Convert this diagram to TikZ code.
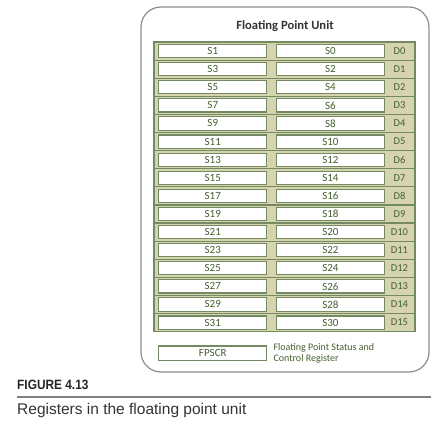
\documentclass[tikz,border=0pt]{standalone}
\usepackage{fontspec}
\setmainfont{Carlito}
\newfontfamily\capfont{Liberation Sans}
\newfontfamily\capfontcn[FakeStretch=0.88]{Liberation Sans}
\usepackage{xcolor}
\usetikzlibrary{positioning}

\definecolor{regfill}{HTML}{D5D4AE}
\definecolor{regline}{HTML}{738A62}
\definecolor{regtext}{HTML}{44602E}
\definecolor{unitline}{HTML}{8A8F88}

\begin{document}
\begin{tikzpicture}[
      x=1pt, y=-1pt,
      node distance=4pt and 5pt,
      reg/.style={rectangle, draw=regline, fill=white, line width=1.1pt,
      minimum width=108pt, minimum height=13.2pt, inner sep=0pt,
      font=\fontsize{11}{12}\selectfont, text=regtext},
      dreg/.style={inner sep=0pt, font=\fontsize{10.5}{11}\selectfont, text=regtext},
      note/.style={align=left, inner sep=0pt, font=\fontsize{10}{11.5}\selectfont, text=regtext}]
    \useasboundingbox (0,0) rectangle (440,434);
    % outer unit box and bank of registers
    \draw[unitline, line width=1.2pt, rounded corners=20pt] (141,7) rectangle (429,372);
    \node[font=\bfseries\fontsize{12.6}{14}\selectfont, text=black!80] (title) at (285,26) {Floating Point Unit};
    \fill[regfill] (154,42) rectangle (415,331.6);
    \foreach \i in {0,...,15} {
      \pgfmathtruncatemacro{\odd}{2*\i+1}
      \pgfmathtruncatemacro{\even}{2*\i}
      \pgfmathsetmacro{\yc}{42+18.1*\i+9.05}
      \node[reg] (s\odd) at (212.8,\yc) {S\odd};
      \node[reg] (s\even) at (330.4,\yc) {S\even};
      \node[dreg] (d\i) at (399.5,\yc) {D\i};
      \draw[regline, line width=1.2pt] (154,42+18.1*\i+18.1) -- (415,42+18.1*\i+18.1);
    }
    \draw[regline, line width=1.2pt] (154,42) rectangle (415,331.6);
    % status register
    \node[reg, minimum height=14.5pt] (fpscr) at (212.8,353.2) {FPSCR};
    \node[note, right=6pt of fpscr] (fpscrlbl) {Floating Point Status and\\Control Register};
    % caption
    \node[anchor=west, inner sep=0pt, font=\capfontcn\bfseries\fontsize{13.5}{15}\selectfont, text=black!85] (fig) at (17,385) {FIGURE 4.13};
    \draw[black!50, line width=2pt] (17,397) -- (431,397);
    \node[anchor=west, inner sep=0pt, font=\capfont\fontsize{15.5}{17}\selectfont, text=black!80] (cap) at (17,410) {Registers in the floating point unit};
  \end{tikzpicture}
\end{document}
